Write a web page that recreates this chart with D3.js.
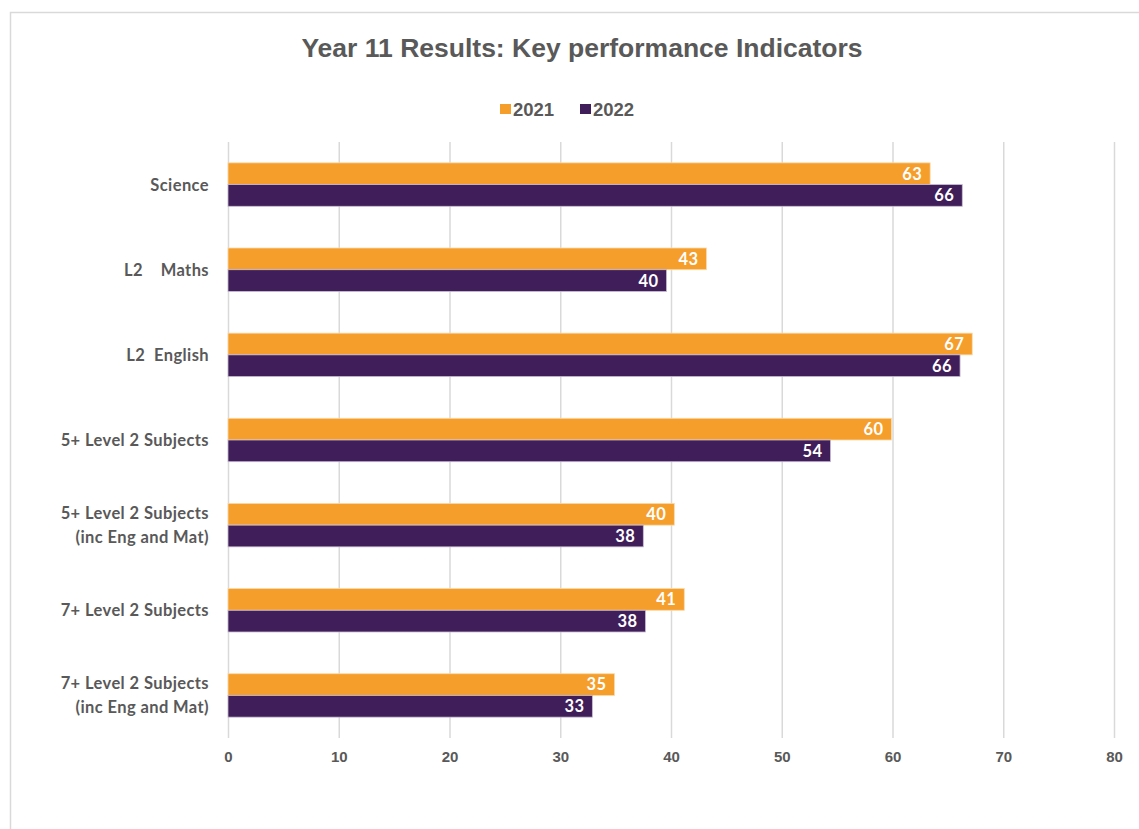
<!DOCTYPE html>
<html><head><meta charset="utf-8">
<script src="https://cdn.jsdelivr.net/npm/d3@7/dist/d3.min.js"></script>
<style>
body{margin:0;background:#fff;}
svg text{white-space:pre;}
</style></head>
<body><svg id="c" width="1139" height="829"></svg>
<script>
const categories = [
  ["Science"],
  ["L2    Maths"],
  ["L2  English"],
  ["5+ Level 2 Subjects"],
  ["5+ Level 2 Subjects", "(inc Eng and Mat)"],
  ["7+ Level 2 Subjects"],
  ["7+ Level 2 Subjects", "(inc Eng and Mat)"]
];
const series2021 = [63.4, 43.2, 67.2, 59.9, 40.3, 41.2, 34.9];
const series2022 = [66.3, 39.6, 66.1, 54.4, 37.5, 37.7, 32.9];
const seriesNames = ["2021", "2022"];
const xTicks = [0, 10, 20, 30, 40, 50, 60, 70, 80];
const colors = ["#F59E2B", "#3F1E5A"];

(function () {
const svg = d3.select("#c");
svg.append("rect").attr("x", 10.5).attr("y", 12.5).attr("width", 1140).attr("height", 830)
  .attr("fill", "#fff").attr("stroke", "#d9d9d9").attr("stroke-width", 1.5);

const pL = 228, pR = 1114, pT = 142, pB = 738;
const x = d3.scaleLinear().domain([0, 80]).range([pL, pR]);
const y0 = d3.scaleBand().domain(d3.range(categories.length)).range([pT, pB]).paddingInner(0.49).paddingOuter(0.245);
const y1 = d3.scaleBand().domain([0, 1]).range([0, y0.bandwidth()]);

svg.append("text").attr("x", 582).attr("y", 57).attr("text-anchor", "middle")
  .attr("font-family", "Liberation Sans, Arial, sans-serif").attr("font-weight", "bold")
  .attr("font-size", 26.5).attr("fill", "#595959").text("Year 11 Results: Key performance Indicators");

const lg = svg.append("g");
const legendX = [500, 580];
seriesNames.forEach((n, i) => {
  lg.append("rect").attr("x", legendX[i]).attr("y", 104).attr("width", 11).attr("height", 10).attr("fill", colors[i]);
  lg.append("text").attr("x", legendX[i] + 13).attr("y", 116)
    .attr("font-family", "Liberation Sans, Arial, sans-serif").attr("font-weight", "bold")
    .attr("font-size", 18.5).attr("fill", "#595959").text(n);
});

const ax = d3.axisBottom(x).tickValues(xTicks).tickSize(-(pB - pT)).tickPadding(13);
const gx = svg.append("g").attr("transform", `translate(0,${pB})`).call(ax);
gx.select(".domain").remove();
gx.selectAll(".tick line").attr("stroke", "#d9d9d9").attr("stroke-width", 1.5);
gx.selectAll(".tick text").attr("fill", "#595959")
  .attr("font-family", "Liberation Sans Narrow, Arial Narrow, Liberation Sans, sans-serif")
  .attr("font-weight", "bold").attr("font-size", 15);

const data = categories.map((c, i) => ({i, vals: [series2021[i], series2022[i]]}));
const groups = svg.append("g").selectAll("g").data(data).join("g")
  .attr("transform", d => `translate(0,${y0(d.i)})`);
groups.selectAll("rect").data(d => d.vals.map((v, k) => ({v, k}))).join("rect")
  .attr("x", x(0)).attr("y", d => y1(d.k)).attr("width", d => x(d.v) - x(0))
  .attr("height", y1.bandwidth()).attr("fill", d => colors[d.k])
  .attr("stroke", d => d.k === 0 ? "#fbd9a8" : "#c8bcd2").attr("stroke-width", 0.8);
groups.selectAll("text.lab").data(d => d.vals.map((v, k) => ({v, k}))).join("text")
  .attr("class", "lab")
  .attr("x", d => x(d.v) - 8).attr("y", d => y1(d.k) + y1.bandwidth() / 2)
  .attr("dy", "0.36em").attr("text-anchor", "end")
  .attr("font-family", "Lato, DejaVu Sans, sans-serif").attr("font-weight", "bold")
  .attr("font-size", 16.5).attr("letter-spacing", 0.4).attr("fill", "#fff").text(d => Math.round(d.v));

const cl = svg.append("g");
categories.forEach((lines, i) => {
  const cy = y0(i) + y0.bandwidth() / 2;
  const lh = 24;
  const t = cl.append("text").attr("text-anchor", "end")
    .attr("font-family", "Lato, DejaVu Sans, sans-serif").attr("font-weight", "bold")
    .attr("font-size", 16.5).attr("letter-spacing", 0.4).attr("fill", "#595959");
  lines.forEach((ln, j) => {
    t.append("tspan").attr("x", 209)
      .attr("y", cy + (j - (lines.length - 1) / 2) * lh).attr("dy", "0.36em").text(ln);
  });
});
})();
</script></body></html>
